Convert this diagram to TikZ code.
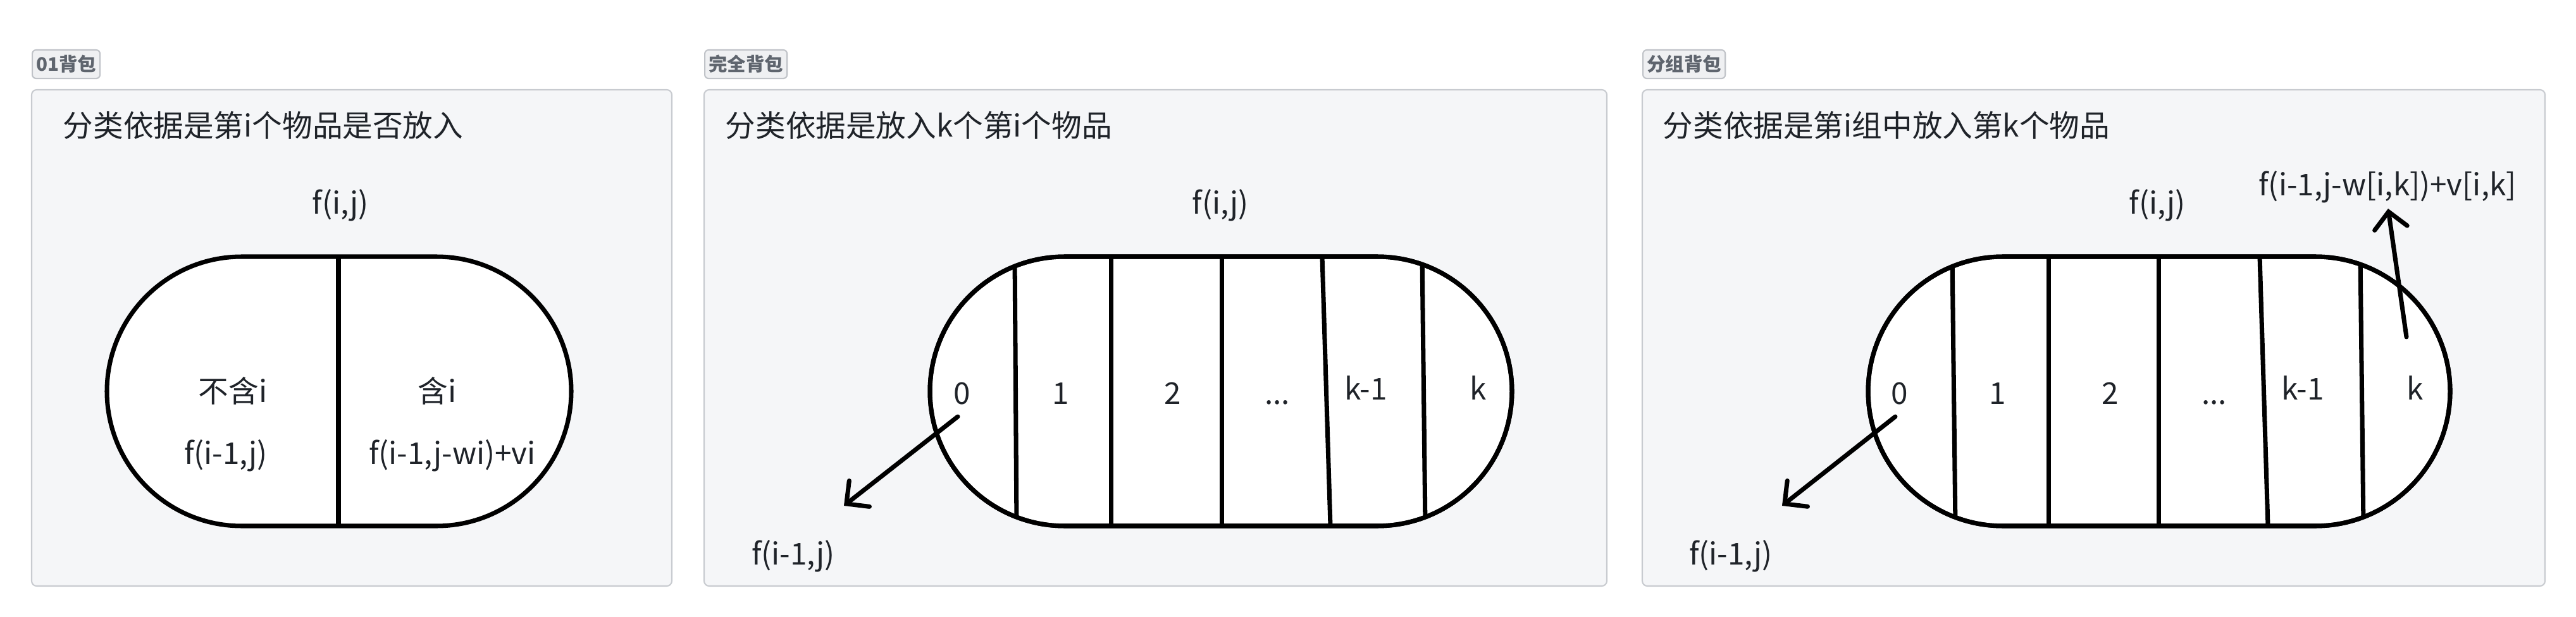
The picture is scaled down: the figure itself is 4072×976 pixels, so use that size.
\documentclass[tikz,border=0pt]{standalone}
\usepackage{fontspec}
\setmainfont{Noto Sans CJK SC}
\usetikzlibrary{arrows.meta}

\definecolor{panelbg}{RGB}{245,246,248}
\definecolor{panelline}{RGB}{200,203,208}
\definecolor{tagbg}{RGB}{239,240,242}
\definecolor{tagline}{RGB}{192,195,200}
\definecolor{tagtext}{RGB}{95,101,110}
\definecolor{ink}{RGB}{31,35,41}

\begin{document}
\begin{tikzpicture}[x=0.01cm,y=-0.01cm,>={Straight Barb[length=0.26cm,width=0.52cm,line cap=round]}]
        \tikzstyle{panel}=[draw=panelline, fill=panelbg, line width=0.6pt, rounded corners=0.08cm]
        \tikzstyle{tag}=[draw=tagline, fill=tagbg, text=tagtext, line width=0.6pt, rounded corners=0.06cm, anchor=north west, inner xsep=0.06cm, inner ysep=0pt, minimum height=0.45cm, font=\fontsize{8.4}{10}\selectfont\bfseries]
        \tikzstyle{txt}=[text=ink, inner sep=0pt, anchor=base, font=\fontsize{13.55}{16}\selectfont]
        \tikzstyle{pill}=[line width=2pt, rounded corners=2.13cm]
        \tikzstyle{bar}=[line width=2pt]
        \tikzstyle{link}=[->, line width=2pt, line cap=round]

        \useasboundingbox (0,0) rectangle (4072,976);

        % 01背包
        \draw[panel] (50,142) rectangle (1062,927);
        \node[tag] (tag1) at (50,78) {01背包};
        \node[txt, anchor=base west] (title1) at (99,216) {分类依据是第i个物品是否放入};
        \node[txt] (top1) at (538,338) {f(i,j)};
        \draw[pill, fill=white] (169,406) rectangle (903,832);
        \draw[bar] (535,406) -- (535,832);
        \node[txt] (no1)  at (368,636) {不含i};
        \node[txt] (nof1) at (357,734) {f(i-1,j)};
        \node[txt] (yes1)  at (691,636) {含i};
        \node[txt] (yesf1) at (715,734) {f(i-1,j-wi)+vi};

        % 完全背包
        \draw[panel] (1113,142) rectangle (2540,927);
        \node[tag] (tag2) at (1113,78) {完全背包};
        \node[txt, anchor=base west] (title2) at (1146,216) {分类依据是放入k个第i个物品};
        \node[txt] (top2) at (1929,338) {f(i,j)};
        \draw[pill, fill=white] (1470,406) rectangle (2390,832);
        \begin{scope}
          \clip[rounded corners=2.13cm] (1470,406) rectangle (2390,832);
          \draw[bar] (1604,406) -- (1607,832);
          \draw[bar] (1756,406) -- (1756,832);
          \draw[bar] (1931,406) -- (1931,832);
          \draw[bar] (2090,406) -- (2103,832);
          \draw[bar] (2248,406) -- (2253,832);
        \end{scope}
        \draw[pill] (1470,406) rectangle (2390,832);
        \node[txt] (c20) at (1521,639) {0};
        \node[txt] (c21) at (1677,639) {1};
        \node[txt] (c22) at (1854,639) {2};
        \node[txt] (c23) at (2019,639) {...};
        \node[txt] (c24) at (2159,632) {k-1};
        \node[txt] (c25) at (2337,632) {k};
        \node[txt] (low2) at (1254,893) {f(i-1,j)};
        \coordinate (from2) at (1514,659);
        \coordinate (to2) at (1334,800);
        \draw[link] (from2) -- (to2);

        % 分组背包
        \draw[panel] (2596,142) rectangle (4023,927);
        \node[tag] (tag3) at (2596,78) {分组背包};
        \node[txt, anchor=base west] (title3) at (2628,216) {分类依据是第i组中放入第k个物品};
        \node[txt] (top3) at (3410,338) {f(i,j)};
        \node[txt] (high3) at (3774,309) {f(i-1,j-w[i,k])+v[i,k]};
        \draw[pill, fill=white] (2953,406) rectangle (3873,832);
        \begin{scope}
          \clip[rounded corners=2.13cm] (2953,406) rectangle (3873,832);
          \draw[bar] (3086,406) -- (3091,832);
          \draw[bar] (3238,406) -- (3238,832);
          \draw[bar] (3412,406) -- (3412,832);
          \draw[bar] (3572,406) -- (3585,832);
          \draw[bar] (3731,406) -- (3736,832);
        \end{scope}
        \draw[pill] (2953,406) rectangle (3873,832);
        \node[txt] (c30) at (3003,639) {0};
        \node[txt] (c31) at (3158,639) {1};
        \node[txt] (c32) at (3336,639) {2};
        \node[txt] (c33) at (3500,639) {...};
        \node[txt] (c34) at (3640,632) {k-1};
        \node[txt] (c35) at (3818,632) {k};
        \node[txt] (low3) at (2736,893) {f(i-1,j)};
        \coordinate (from3) at (2996,659);
        \coordinate (to3) at (2817,800);
        \draw[link] (from3) -- (to3);
        \coordinate (up3) at (3804,533);
        \coordinate (tip3) at (3775,330);
        \draw[link] (up3) -- (tip3);
\end{tikzpicture}
\end{document}
